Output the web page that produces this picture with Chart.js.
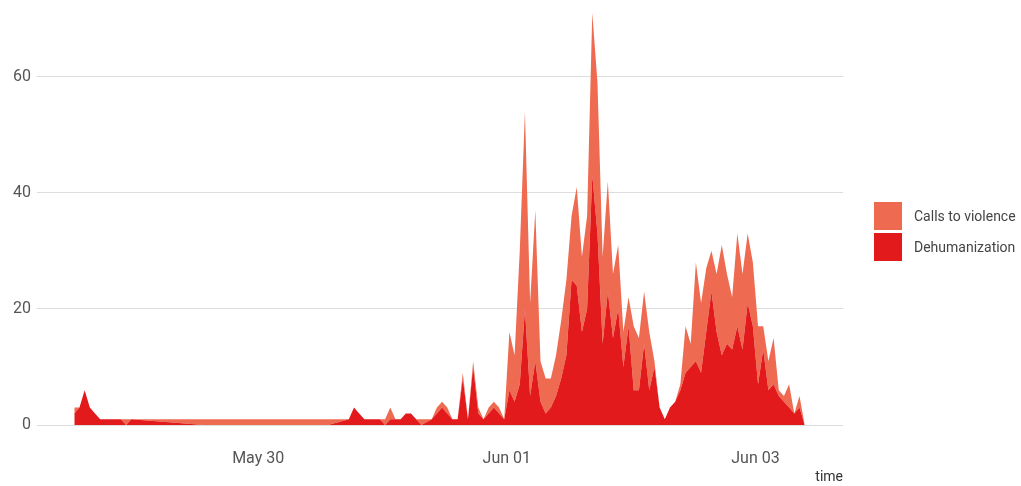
<!DOCTYPE html>
<html>
<head>
<meta charset="utf-8">
<script src="https://cdn.jsdelivr.net/npm/chart.js@4.4.1/dist/chart.umd.min.js"></script>
<style>
  body { margin: 0; background: #fff; font-family: Roboto, sans-serif; }
  #wrap { position: relative; width: 1021px; height: 486px; }
  #legend { position: absolute; left: 874px; top: 202px; }
  .item { display: flex; align-items: center; height: 28px; margin-bottom: 3px; font-size: 14px; color: #444; }
  .swatch { width: 28px; height: 28px; margin-right: 12px; }
</style>
</head>
<body>
<div id="wrap">
  <canvas id="my-canvas"></canvas>
  <div id="legend"></div>
</div>
<script>
// hours since the first sample (hours without any post are absent)
const hours = [
  0, 1, 2, 3, 4, 5, 6, 7, 8, 9, 10, 11,
  25, 49,
  53, 54, 55, 56, 57, 58, 59, 60, 61, 62, 63, 64, 65, 66, 67,
  69, 70, 71, 72, 73, 74, 75, 76, 77, 78, 79, 80, 81, 82, 83,
  84, 85, 86, 87, 88, 89, 90, 91, 92, 93, 94, 95, 96, 97, 98, 99,
  100, 101, 102, 103, 104, 105, 106, 107, 108, 109, 110, 111, 112, 113, 114, 115, 116, 117, 118, 119,
  120, 121, 122, 123, 124, 125, 126, 127, 128, 129, 130, 131, 132, 133, 134, 135, 136, 137, 138, 139,
  140, 141
]

const dehumanization = [
  2, 3, 6, 3, 2, 1, 1, 1, 1, 1, 0, 1,
  0, 0,
  1, 3, 2, 1, 1, 1, 1, 0, 1, 1, 1, 2, 2, 1, 0,
  1, 2, 3, 2, 1, 1, 8, 1, 10, 2, 1, 2, 3, 2, 1,
  6, 4, 7, 20, 5, 11, 4, 2, 3, 5, 8, 12, 25, 24, 16, 20,
  43, 33, 14, 23, 15, 20, 10, 17, 6, 6, 14, 6, 10, 3, 1, 3, 4, 6, 9, 10,
  11, 9, 16, 23, 16, 12, 14, 13, 17, 13, 21, 17, 7, 13, 6, 7, 5, 4, 3, 2,
  3, 0
]

const callsToViolence = [
  1, 0, 0, 0, 0, 0, 0, 0, 0, 0, 1, 0,
  1, 1,
  0, 0, 0, 0, 0, 0, 0, 1, 2, 0, 0, 0, 0, 0, 1,
  0, 1, 1, 1, 0, 0, 1, 0, 1, 1, 0, 1, 1, 1, 0,
  10, 8, 23, 34, 16, 26, 7, 6, 5, 7, 10, 13, 11, 17, 13, 16,
  28, 26, 15, 19, 11, 11, 6, 5, 11, 9, 9, 10, 1, 0, 0, 0, 0, 1, 8, 4,
  17, 12, 11, 7, 10, 19, 12, 9, 16, 13, 12, 11, 10, 4, 5, 8, 1, 1, 4, 0,
  2, 0
]

const tickHours = [35.5, 83.5, 131.5]
const tickLabels = ['May 30', 'Jun 01', 'Jun 03']

const seriesNames = ['Calls to violence', 'Dehumanization']
const seriesColors = ['#ee6a50', '#e31a1c']

const canvas = document.querySelector('#my-canvas')
const ctx = canvas.getContext('2d')

const toPoints = values => values.map((v, i) => ({ x: hours[i], y: v }))

new Chart(ctx, {
  type: 'line',
  data: {
    datasets: [
      {
        label: seriesNames[1],
        data: toPoints(dehumanization),
        backgroundColor: seriesColors[1],
        borderColor: 'rgba(0,0,0,0)',
        fill: 'origin'
      },
      {
        label: seriesNames[0],
        data: toPoints(callsToViolence),
        backgroundColor: seriesColors[0],
        borderColor: 'rgba(0,0,0,0)',
        fill: '-1'
      }
    ]
  },
  options: {
    responsive: true,
    maintainAspectRatio: false,
    animation: false,
    layout: { padding: { top: 7, right: 178, bottom: 0, left: 0 } },
    elements: {
      point: { radius: 0 },
      line: { borderWidth: 0, tension: 0 }
    },
    plugins: {
      legend: { display: false },
      tooltip: { enabled: false }
    },
    scales: {
      x: {
        type: 'linear',
        min: -7.2,
        max: 148.4,
        grid: { display: false, drawTicks: false },
        border: { display: false },
        afterBuildTicks: scale => { scale.ticks = tickHours.map(v => ({ value: v })) },
        afterFit: scale => { scale.height = 61 },
        ticks: {
          padding: 24,
          autoSkip: false,
          maxRotation: 0,
          color: '#555',
          font: { family: 'Roboto', size: 16 },
          callback: (v, i) => tickLabels[i]
        },
        title: {
          display: true,
          text: 'time',
          align: 'end',
          color: '#333',
          padding: 0,
          font: { family: 'Roboto', size: 14 }
        }
      },
      y: {
        stacked: true,
        min: 0,
        max: 72,
        afterFit: scale => {
          scale.width = 37
          scale.paddingTop = 0
        },
        grid: { color: '#dddddd', drawTicks: false },
        border: { display: false },
        ticks: {
          stepSize: 20,
          padding: 6,
          color: '#555',
          font: { family: 'Roboto', size: 16 },
          callback: v => (v % 20 === 0 ? v : null)
        }
      }
    }
  }
})

// legend, same order as the reference
const legend = document.querySelector('#legend')
seriesNames.forEach((name, i) => {
  const item = document.createElement('div')
  item.className = 'item'
  item.innerHTML = '<span class="swatch" style="background:' + seriesColors[i] + '"></span>' + name
  legend.appendChild(item)
})
</script>
</body>
</html>
